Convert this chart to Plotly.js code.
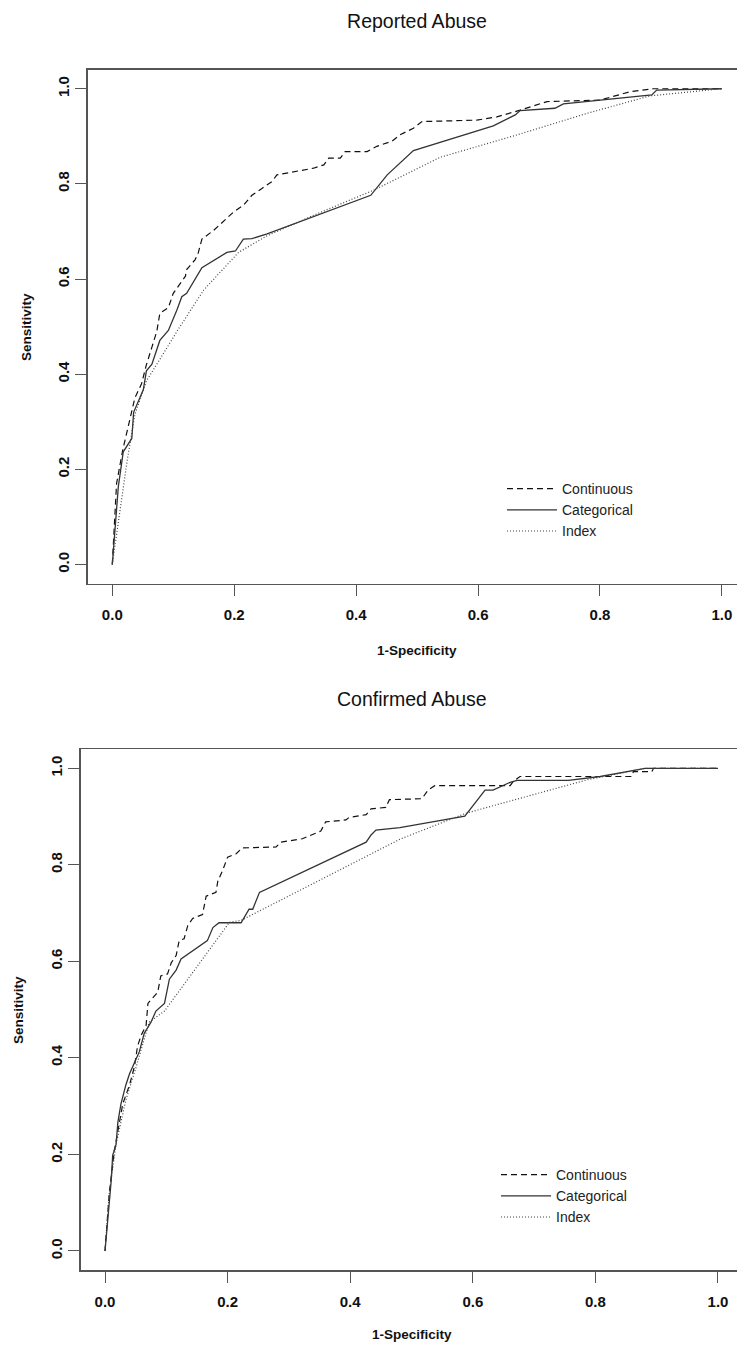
<!DOCTYPE html>
<html>
<head>
<meta charset="utf-8">
<script src="https://cdn.plot.ly/plotly-3.0.1.min.js"></script>
<style>
html,body{margin:0;padding:0;overflow:hidden;background:#fff;}
#chart{width:760px;height:1345px;}
</style>
</head>
<body>
<div id="chart"></div>
<script>
// ---- Data: Reported Abuse (top) ----
const topContX = [0, 0.007, 0.017, 0.029, 0.037, 0.048, 0.056, 0.065, 0.073, 0.078, 0.092, 0.1, 0.108, 0.12, 0.122, 0.136, 0.141, 0.147, 0.166, 0.182, 0.199, 0.215, 0.229, 0.245, 0.262, 0.27, 0.303, 0.33, 0.347, 0.355, 0.374, 0.382, 0.418, 0.434, 0.459, 0.473, 0.494, 0.508, 0.598, 0.631, 0.669, 0.713, 0.80, 0.828, 0.85, 0.888, 1.0];
const topContY = [0, 0.17, 0.24, 0.31, 0.35, 0.38, 0.42, 0.457, 0.49, 0.528, 0.54, 0.57, 0.585, 0.606, 0.62, 0.641, 0.655, 0.684, 0.702, 0.72, 0.741, 0.755, 0.776, 0.79, 0.805, 0.819, 0.826, 0.833, 0.84, 0.854, 0.854, 0.868, 0.868, 0.879, 0.89, 0.904, 0.917, 0.931, 0.934, 0.941, 0.955, 0.973, 0.976, 0.987, 0.994, 1.0, 1.0];

const topCatX = [0, 0.01, 0.018, 0.032, 0.035, 0.043, 0.051, 0.056, 0.065, 0.078, 0.092, 0.106, 0.114, 0.122, 0.136, 0.147, 0.188, 0.202, 0.215, 0.229, 0.254, 0.341, 0.424, 0.451, 0.494, 0.625, 0.661, 0.669, 0.726, 0.74, 0.885, 0.893, 1.0];
const topCatY = [0, 0.165, 0.237, 0.265, 0.32, 0.343, 0.368, 0.407, 0.421, 0.471, 0.492, 0.535, 0.563, 0.57, 0.599, 0.624, 0.656, 0.659, 0.684, 0.685, 0.695, 0.737, 0.776, 0.819, 0.870, 0.922, 0.945, 0.954, 0.959, 0.968, 0.987, 0.997, 1.0];

const topIdxX = [0, 0.024, 0.037, 0.056, 0.073, 0.111, 0.15, 0.207, 0.254, 0.33, 0.429, 0.538, 0.664, 0.778, 0.882, 1.0];
const topIdxY = [0, 0.215, 0.315, 0.386, 0.421, 0.5, 0.577, 0.656, 0.691, 0.734, 0.787, 0.856, 0.903, 0.948, 0.985, 1.0];

// ---- Data: Confirmed Abuse (bottom) ----
const botContX = [0, 0.007, 0.015, 0.023, 0.029, 0.04, 0.048, 0.053, 0.059, 0.067, 0.07, 0.086, 0.091, 0.102, 0.108, 0.116, 0.121, 0.129, 0.135, 0.143, 0.159, 0.165, 0.181, 0.184, 0.192, 0.2, 0.214, 0.224, 0.279, 0.287, 0.322, 0.352, 0.36, 0.393, 0.398, 0.426, 0.434, 0.458, 0.464, 0.517, 0.527, 0.538, 0.661, 0.666, 0.677, 0.859, 0.862, 0.892, 0.895, 1.0];
const botContY = [0, 0.121, 0.206, 0.267, 0.305, 0.344, 0.382, 0.424, 0.447, 0.467, 0.513, 0.536, 0.57, 0.574, 0.597, 0.612, 0.643, 0.647, 0.674, 0.689, 0.697, 0.735, 0.743, 0.766, 0.789, 0.816, 0.823, 0.835, 0.837, 0.847, 0.854, 0.87, 0.889, 0.893, 0.898, 0.904, 0.916, 0.919, 0.935, 0.937, 0.955, 0.964, 0.964, 0.973, 0.983, 0.983, 0.993, 0.993, 1.0, 1.0];

const botCatX = [0, 0.01, 0.0125, 0.018, 0.021, 0.026, 0.034, 0.04, 0.048, 0.056, 0.064, 0.075, 0.083, 0.097, 0.105, 0.116, 0.124, 0.167, 0.176, 0.186, 0.222, 0.235, 0.241, 0.252, 0.426, 0.434, 0.442, 0.481, 0.587, 0.617, 0.62, 0.633, 0.661, 0.672, 0.756, 0.808, 0.881, 1.0];
const botCatY = [0, 0.144, 0.198, 0.221, 0.267, 0.305, 0.344, 0.367, 0.39, 0.413, 0.451, 0.474, 0.497, 0.513, 0.563, 0.582, 0.605, 0.643, 0.67, 0.68, 0.68, 0.708, 0.708, 0.743, 0.847, 0.862, 0.872, 0.877, 0.901, 0.952, 0.955, 0.955, 0.971, 0.975, 0.975, 0.983, 1.0, 1.0];

const botIdxX = [0, 0.007, 0.018, 0.034, 0.051, 0.072, 0.097, 0.203, 0.222, 0.481, 0.589, 0.786, 0.881, 1.0];
const botIdxY = [0, 0.121, 0.221, 0.313, 0.382, 0.474, 0.497, 0.681, 0.685, 0.853, 0.907, 0.976, 1.0, 1.0];

const seriesNames = ['Continuous', 'Categorical', 'Index'];
const tickValues = [0, 0.2, 0.4, 0.6, 0.8, 1.0];
const tickLabels = ['0.0', '0.2', '0.4', '0.6', '0.8', '1.0'];
const titles = ['Reported Abuse', 'Confirmed Abuse'];
const xTitle = '1-Specificity';
const yTitle = 'Sensitivity';

// ---- Layout helpers (pixel -> paper) ----
const W = 760, H = 1345;
const fx = p => p / W;
const fy = p => 1 - p / H;

const styles = [
  {color: '#111', width: 1.2, dash: '6px,4px'},
  {color: '#333', width: 1.3, dash: 'solid'},
  {color: '#444', width: 1.2, dash: '1px,2px'}
];

function tr(x, y, i, xa, ya, lg) {
  return {x: x, y: y, type: 'scatter', mode: 'lines', name: seriesNames[i],
    line: styles[i], xaxis: xa, yaxis: ya, legend: lg, hoverinfo: 'skip'};
}

const data = [
  tr(topContX, topContY, 0, 'x', 'y', 'legend'),
  tr(topCatX, topCatY, 1, 'x', 'y', 'legend'),
  tr(topIdxX, topIdxY, 2, 'x', 'y', 'legend'),
  tr(botContX, botContY, 0, 'x2', 'y2', 'legend2'),
  tr(botCatX, botCatY, 1, 'x2', 'y2', 'legend2'),
  tr(botIdxX, botIdxY, 2, 'x2', 'y2', 'legend2')
];

const tickFont = {family: 'Liberation Sans, Arial, sans-serif', size: 15, color: '#111', weight: 'bold'};
function axis(domain, anchor, isY) {
  return {
    domain: domain, anchor: anchor, range: [-0.04, 1.04],
    tickvals: tickValues, ticktext: tickLabels,
    ticks: 'outside', ticklen: 11, tickwidth: 1, tickcolor: '#555',
    showline: true, mirror: true, linecolor: '#555', linewidth: 1.5,
    showgrid: false, zeroline: false, tickfont: tickFont,
    tickangle: isY ? -90 : 0,
    ticklabelstandoff: isY ? 0 : 6,
    fixedrange: true
  };
}

const legendBase = {
  bgcolor: 'rgba(0,0,0,0)', borderwidth: 0,
  font: {family: 'Liberation Sans, Arial, sans-serif', size: 14, color: '#222'},
  xanchor: 'left', yanchor: 'top', itemwidth: 50, tracegroupgap: 0
};

const annFont = {family: 'Liberation Sans, Arial, sans-serif', size: 13.5, color: '#111', weight: 'bold'};

const layout = {
  width: W, height: H,
  margin: {l: 0, r: 0, t: 0, b: 0},
  paper_bgcolor: '#fff', plot_bgcolor: '#fff',
  showlegend: true,
  title: {text: titles[0], x: fx(417), xanchor: 'center', xref: 'paper', y: fy(21), yanchor: 'middle', yref: 'paper',
          font: {family: 'Liberation Sans, Arial, sans-serif', size: 19.5, color: '#111'}},
  xaxis: axis([fx(87.9), fx(746.3)], 'y', false),
  yaxis: axis([fy(583.6), fy(69.7)], 'x', true),
  xaxis2: axis([fx(80.5), fx(742.5)], 'y2', false),
  yaxis2: axis([fy(1270.3), fy(749)], 'x2', true),
  legend: Object.assign({}, legendBase, {x: fx(502), y: fy(473)}),
  legend2: Object.assign({}, legendBase, {x: fx(496), y: fy(1159)}),
  annotations: [
    {text: titles[1], xref: 'paper', yref: 'paper', x: fx(411.5), y: fy(699), xanchor: 'center', yanchor: 'middle', showarrow: false,
     font: {family: 'Liberation Sans, Arial, sans-serif', size: 19.5, color: '#111'}},
    {text: xTitle, xref: 'paper', yref: 'paper', x: fx(417), y: fy(650), xanchor: 'center', yanchor: 'middle', showarrow: false, font: annFont},
    {text: xTitle, xref: 'paper', yref: 'paper', x: fx(411.5), y: fy(1334), xanchor: 'center', yanchor: 'middle', showarrow: false, font: annFont},
    {text: yTitle, xref: 'paper', yref: 'paper', x: fx(26), y: fy(327), xanchor: 'center', yanchor: 'middle', textangle: -90, showarrow: false, font: annFont},
    {text: yTitle, xref: 'paper', yref: 'paper', x: fx(18), y: fy(1010), xanchor: 'center', yanchor: 'middle', textangle: -90, showarrow: false, font: annFont}
  ]
};

Plotly.newPlot('chart', data, layout, {staticPlot: true, displayModeBar: false});
</script>
</body>
</html>
